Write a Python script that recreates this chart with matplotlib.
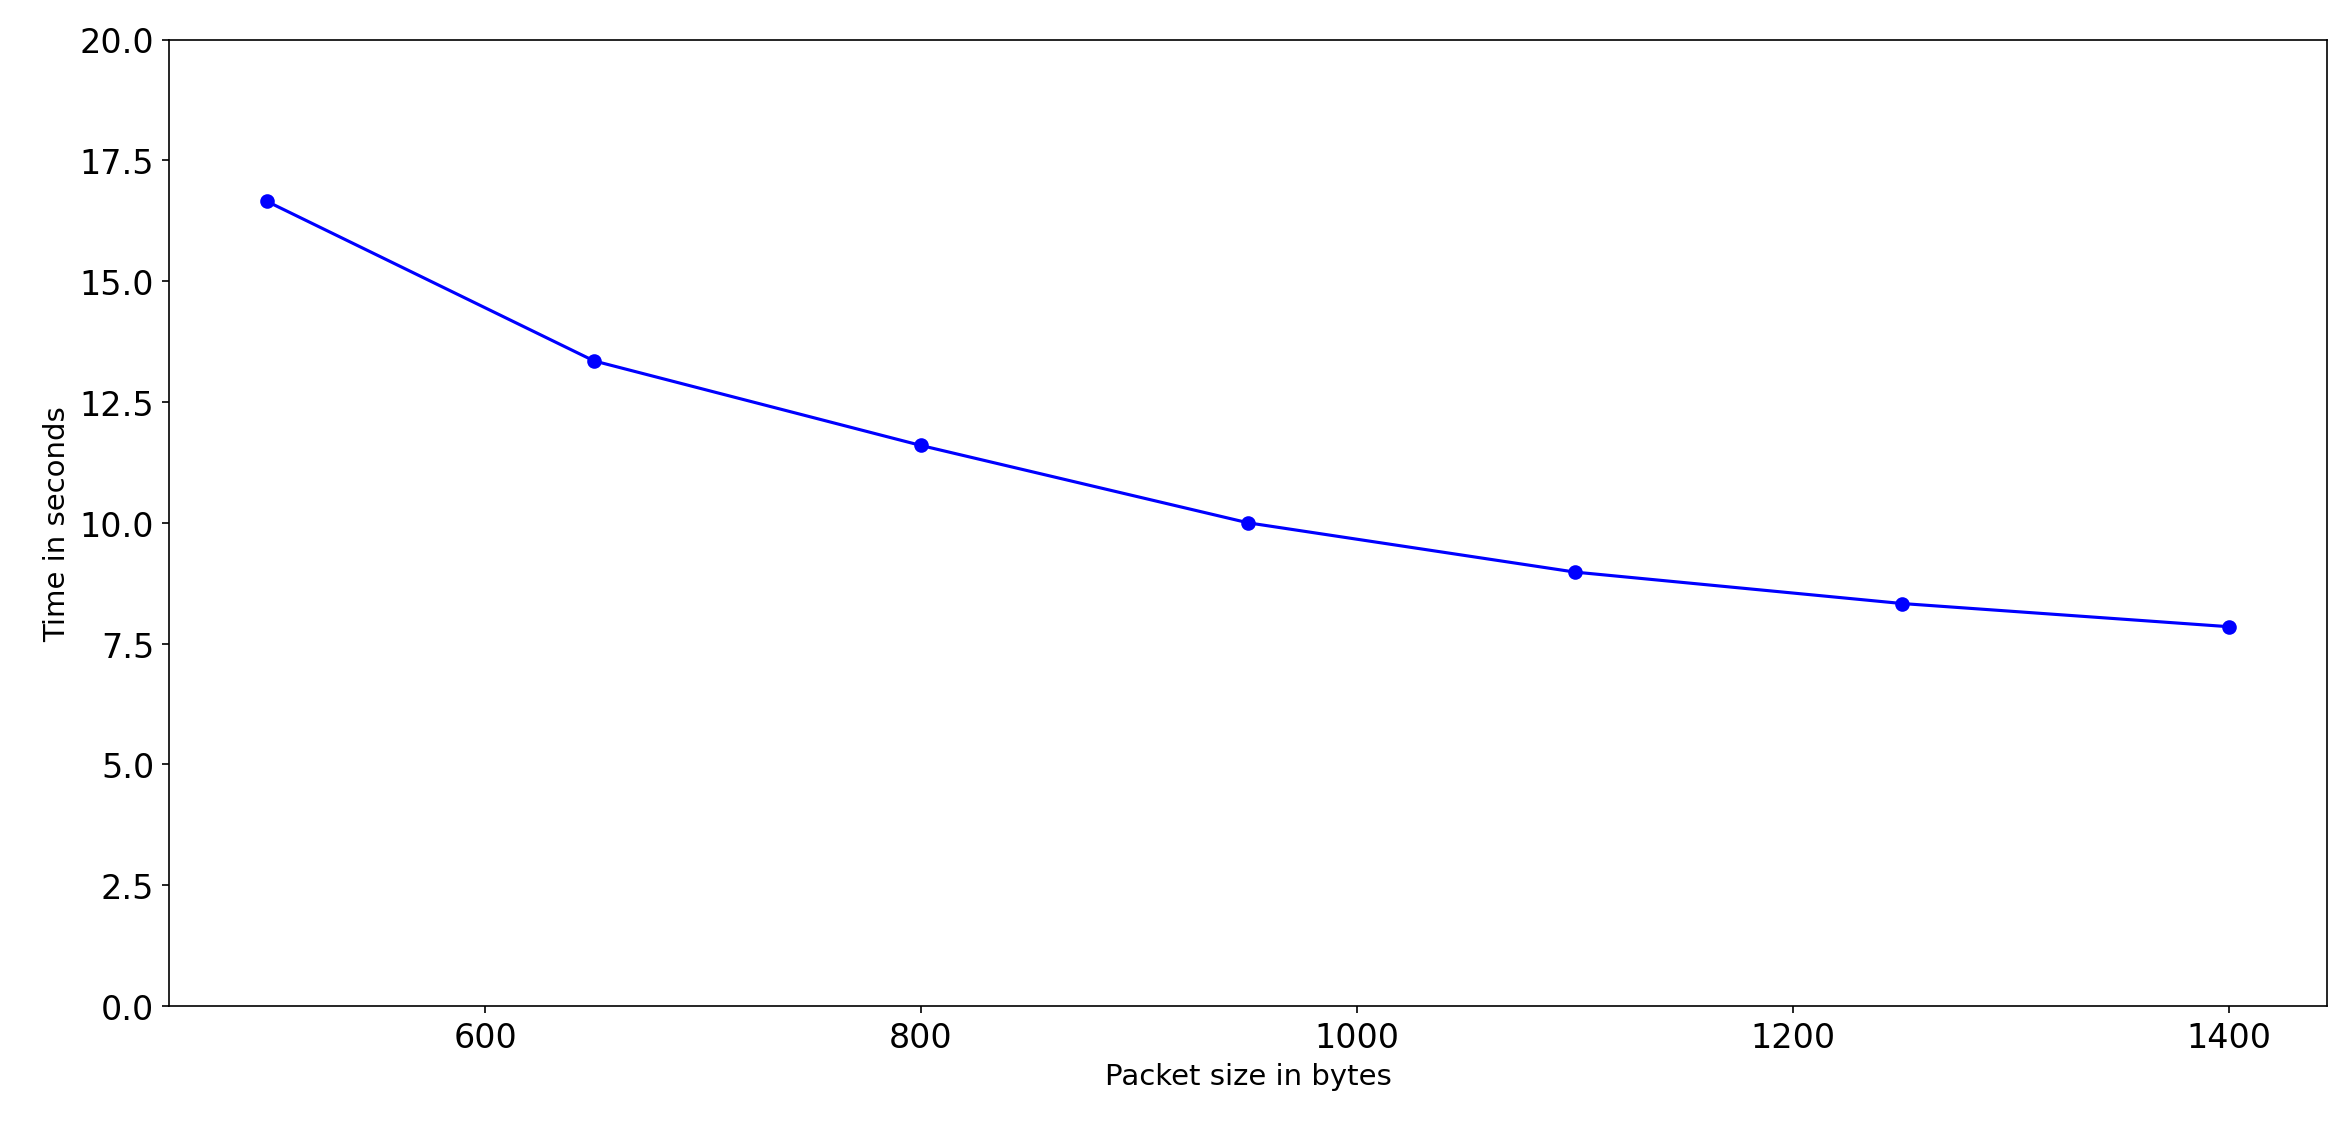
import matplotlib
matplotlib.use("Agg")
import matplotlib.pyplot as plt

packet_sizes = [500, 650, 800, 950, 1100, 1250, 1400]
times = [16.65, 13.35, 11.6, 10.0, 8.98, 8.33, 7.85]

fig = plt.figure(figsize=(15.64, 7.493), dpi=150)
ax = fig.add_axes([0.072, 0.104, 0.92, 0.86])
ax.plot(packet_sizes, times, color="blue", marker="o", markersize=6)
ax.set_ylim(0, 20)
ax.set_xlabel("Packet size in bytes", fontsize=14)
ax.set_ylabel("Time in seconds", fontsize=14)
ax.tick_params(labelsize=16)
fig.savefig("out.png", dpi=150)
